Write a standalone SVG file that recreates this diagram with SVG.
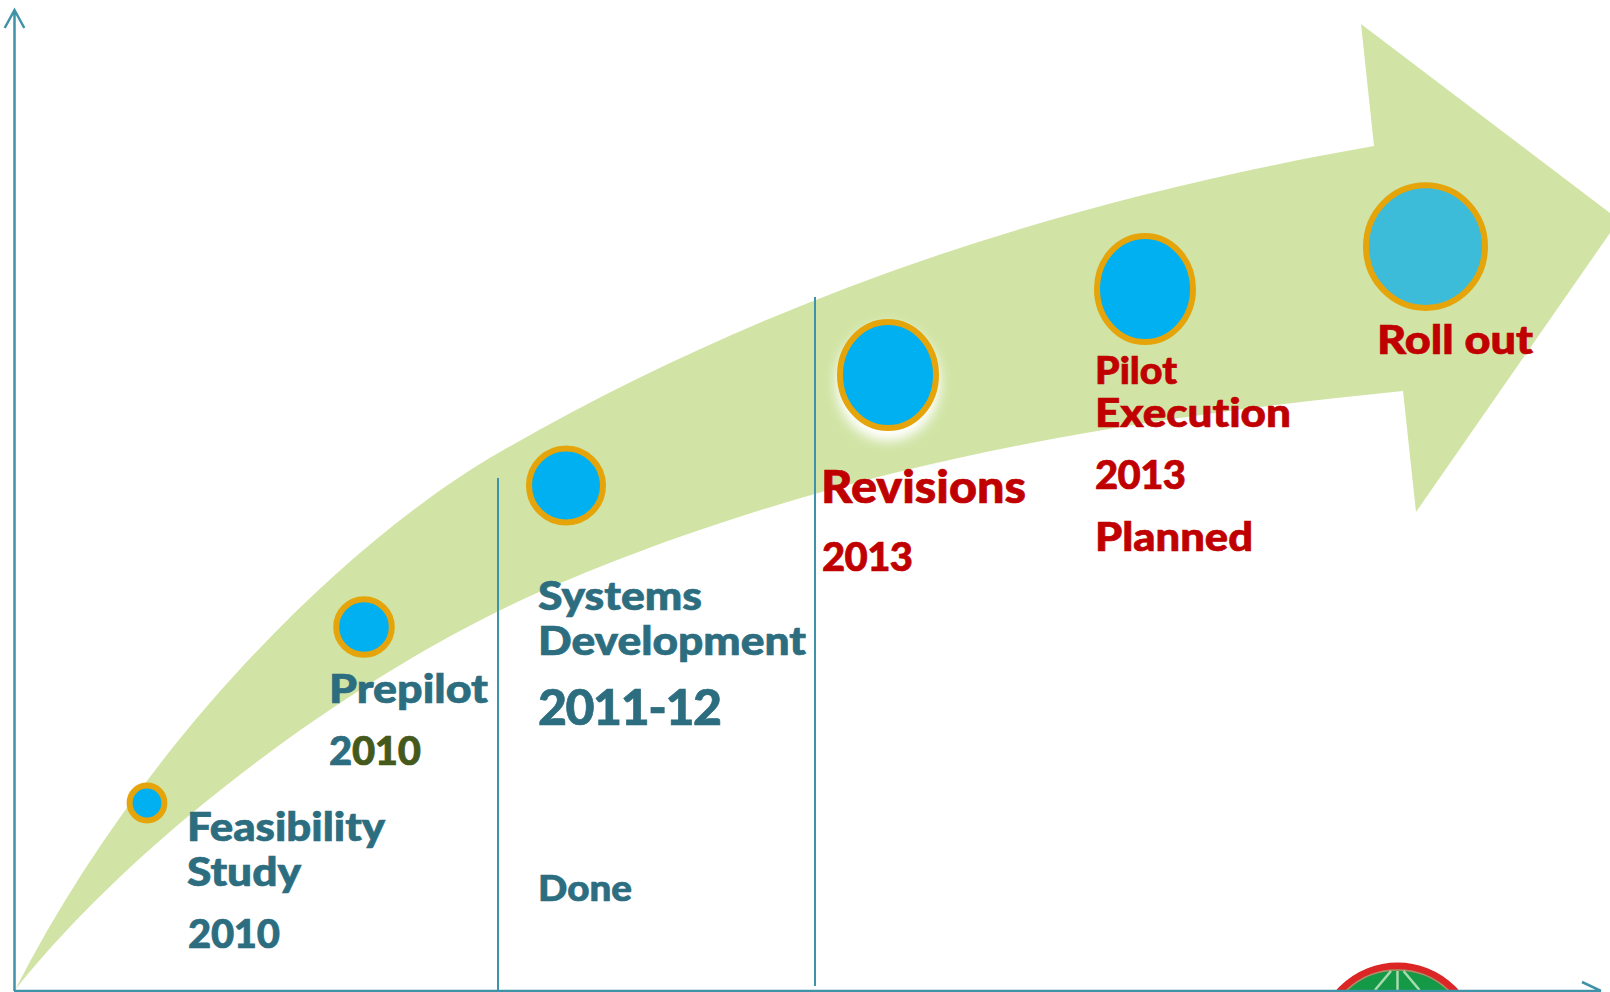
<svg xmlns="http://www.w3.org/2000/svg" width="1610" height="992" viewBox="0 0 1610 992">
<defs>
<filter id="glow" x="-30%" y="-30%" width="160%" height="160%"><feGaussianBlur stdDeviation="6"/></filter>
<clipPath id="page"><rect x="0" y="0" width="1610" height="990"/></clipPath>
</defs>
<style>
.axis{fill:none;stroke:#3f93a8;stroke-width:2.500;}
.rule{fill:none;stroke:#3f93a8;stroke-width:2;}
.dot{fill:#00b0f0;stroke:#e5a50a;stroke-width:6;}
text{font-family:"Lato","Liberation Sans",sans-serif;font-weight:900;font-variant-ligatures:none;stroke-width:0.700;}
.teal{fill:#2c6d7f;stroke:#2c6d7f;}
.red{fill:#c00000;stroke:#c00000;}
.olive{fill:#44591b;stroke:#44591b;}
</style>
<rect width="1610" height="992" fill="#ffffff"/>
<path id="growth-arrow" fill="#d1e4a5" d="M15 990 C140 745 345 541 500 452 C790 285 1084 197 1374 146 L1361 24 L1610 213 L1610 233 L1416 512 L1403 391 C1123 419 843 464 563 582 C383 655 145 826 15 990 Z"/>
<g id="globe" clip-path="url(#page)">
<circle cx="1397.500" cy="1044" r="78" fill="#149a47" stroke="#dc2626" stroke-width="7"/>
<circle cx="1397.500" cy="1044" r="74" fill="none" stroke="#b98a6a" stroke-width="1.500"/>
<path d="M1397.500 971V990M1391 971L1375 990M1403.500 971L1419.500 990" fill="none" stroke="#a8dcb0" stroke-width="2.500"/>
</g>
<g id="connectors">
<path class="axis" d="M14.500 991V10M4.700 28L14.500 10L24.300 28"/>
<path class="axis" d="M14 991H1601M1582 982L1601 991"/>
<path class="rule" d="M498 478V990"/>
<path class="rule" d="M815 297V986"/>
</g>
<g id="node-feasibility">
<circle class="dot" cx="147" cy="803" r="17.400"/>
<text class="teal" font-size="40" x="187" y="841" textLength="198" lengthAdjust="spacingAndGlyphs">Feasibility</text>
<text class="teal" font-size="40" x="187" y="886" textLength="114" lengthAdjust="spacingAndGlyphs">Study</text>
<text class="teal" font-size="40" x="188" y="948" textLength="92" lengthAdjust="spacing">2010</text>
</g>
<g id="node-prepilot">
<circle class="dot" cx="364" cy="627" r="27.800"/>
<text class="teal" font-size="40" x="329" y="703" textLength="159" lengthAdjust="spacingAndGlyphs">Prepilot</text>
<text class="olive" font-size="40" x="329" y="765" textLength="92" lengthAdjust="spacing"><tspan class="teal">2</tspan>010</text>
</g>
<g id="node-systems">
<circle class="dot" cx="566" cy="485.500" r="37"/>
<text class="teal" font-size="40" x="538" y="610" textLength="164" lengthAdjust="spacingAndGlyphs">Systems</text>
<text class="teal" font-size="40" x="538" y="655" textLength="268" lengthAdjust="spacingAndGlyphs">Development</text>
<text class="teal" font-size="50" x="538" y="725" textLength="184" lengthAdjust="spacing">2011-12</text>
<text class="teal" font-size="36" x="538" y="901" textLength="94" lengthAdjust="spacingAndGlyphs">Done</text>
</g>
<g id="node-revisions">
<ellipse cx="888" cy="383" rx="52" ry="58" fill="#ffffff" filter="url(#glow)"/>
<ellipse class="dot" cx="888" cy="375" rx="48" ry="53"/>
<text class="red" font-size="46" x="821" y="503" textLength="205" lengthAdjust="spacingAndGlyphs">Revisions</text>
<text class="red" font-size="40" x="822" y="571" textLength="91" lengthAdjust="spacing">2013</text>
</g>
<g id="node-pilot">
<ellipse class="dot" cx="1145" cy="289" rx="48" ry="53"/>
<text class="red" font-size="38" x="1095" y="384" textLength="82" lengthAdjust="spacingAndGlyphs">Pilot</text>
<text class="red" font-size="40" x="1095" y="427" textLength="196" lengthAdjust="spacingAndGlyphs">Execution</text>
<text class="red" font-size="40" x="1095" y="489" textLength="91" lengthAdjust="spacing">2013</text>
<text class="red" font-size="40" x="1095" y="551" textLength="158" lengthAdjust="spacingAndGlyphs">Planned</text>
</g>
<g id="node-rollout">
<ellipse cx="1425.500" cy="246.600" rx="59.500" ry="61.300" fill="#3dbcd9" stroke="#e5a50a" stroke-width="6"/>
<text class="red" font-size="40" x="1377" y="354" textLength="156" lengthAdjust="spacingAndGlyphs">Roll out</text>
</g>
</svg>
